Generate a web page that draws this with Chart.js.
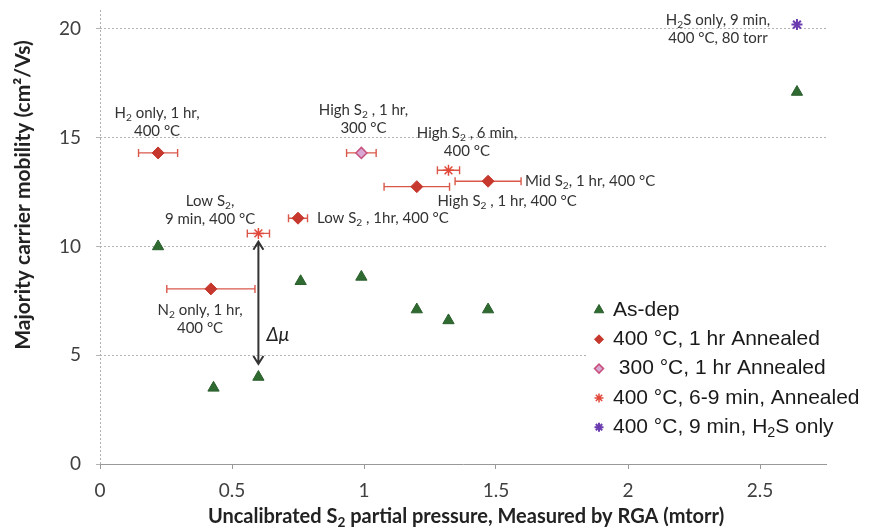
<!DOCTYPE html>
<html>
<head>
<meta charset="utf-8">
<script src="https://cdn.jsdelivr.net/npm/chart.js@4/dist/chart.umd.min.js"></script>
<style>
  html, body { margin: 0; padding: 0; background: #fff; }
  #wrap { width: 871px; height: 529px; }
</style>
</head>
<body>
<div id="wrap"><canvas id="c" width="871" height="529"></canvas></div>
<script>
// ---- data: S2 partial pressure (mtorr) vs. majority carrier mobility (cm2/Vs) ----
const asDepX = [0.22, 0.43, 0.60, 0.76, 0.99, 1.20, 1.32, 1.47, 2.64];
const asDepY = [10.0, 3.5, 4.0, 8.4, 8.6, 7.1, 6.6, 7.1, 17.1];

const anneal1hX   = [0.22, 0.42, 0.75, 1.20, 1.47];
const anneal1hY   = [14.3, 8.05, 11.3, 12.75, 13.0];
const anneal1hErr = [0.074, 0.167, 0.036, 0.124, 0.125];

const anneal300X   = [0.99];
const anneal300Y   = [14.3];
const anneal300Err = [0.056];

const shortAnnealX   = [0.60, 1.32];
const shortAnnealY   = [10.6, 13.5];
const shortAnnealErr = [0.042, 0.042];

const h2sX = [2.64];
const h2sY = [20.2];

const seriesNames = [
  'As-dep',
  '400 °C, 1 hr Annealed',
  ' 300 °C, 1 hr Annealed',
  '400 °C, 6-9 min, Annealed',
  '400 °C, 9 min, H{2}S only'
];

const xTicks = [0, 0.5, 1, 1.5, 2, 2.5];
const yTicks = [0, 5, 10, 15, 20];

const xTitle = 'Uncalibrated S{2} partial pressure, Measured by RGA (mtorr)';
const yTitle = 'Majority carrier mobility (cm²/Vs)';

// sample condition notes, anchored in data units ({n} = subscript)
const notes = [
  { lines: ['H{2} only, 1 hr,', '400 °C'], x: 0.216, y: 16.14, align: 'center' },
  { lines: ['High S{2} , 1 hr,', '300 °C'], x: 0.998, y: 16.28, align: 'center' },
  { lines: ['High S{2} , 6 min,', '400 °C'], x: 1.39, y: 15.22, align: 'center' },
  { lines: ['Mid S{2}, 1 hr, 400 °C'], x: 1.61, y: 13.01, align: 'left' },
  { lines: ['High S{2} , 1 hr, 400 °C'], x: 1.542, y: 12.1, align: 'center' },
  { lines: ['Low S{2} , 1hr, 400 °C'], x: 0.822, y: 11.31, align: 'left' },
  { lines: ['Low S{2},', '9 min, 400 °C'], x: 0.417, y: 12.06, align: 'center' },
  { lines: ['N{2} only, 1 hr,', '400 °C'], x: 0.379, y: 7.08, align: 'center' },
  { lines: ['H{2}S only, 9 min,', '400 °C, 80 torr'], x: 2.341, y: 20.41, align: 'center' }
];

// mobility gain arrow between as-deposited and annealed sample
const deltaMu = { x: 0.60, yTop: 10.22, yBottom: 4.6, label: 'Δμ', labelX: 0.631, labelY: 5.93 };

const pts = (xs, ys) => xs.map((x, i) => ({ x: x, y: ys[i] }));

// ---- text helpers: plain runs plus {subscript} runs ----
function fontStr(o, size) {
  return (o.style || 'normal') + ' ' + (o.weight || 'normal') + ' ' + size + 'px ' + o.family;
}
function richParts(str) {
  return str.split(/(\{[^}]*\})/).filter(s => s.length).map(s =>
    s[0] === '{' ? { t: s.slice(1, -1), sub: true } : { t: s, sub: false });
}
function richWidth(ctx, str, o) {
  let w = 0;
  richParts(str).forEach(p => {
    ctx.font = fontStr(o, p.sub ? o.size * 0.68 : o.size);
    w += ctx.measureText(p.t).width;
  });
  return w;
}
function drawRich(ctx, str, x, y, o) {
  const w = richWidth(ctx, str, o);
  let cx = o.align === 'center' ? x - w / 2 : (o.align === 'right' ? x - w : x);
  ctx.fillStyle = o.color;
  ctx.textBaseline = 'middle';
  ctx.textAlign = 'left';
  richParts(str).forEach(p => {
    const s = p.sub ? o.size * 0.68 : o.size;
    ctx.font = fontStr(o, s);
    ctx.fillText(p.t, cx, p.sub ? y + o.size * 0.3 : y);
    cx += ctx.measureText(p.t).width;
  });
}

// ---- plugins ----
const errorBars = {
  id: 'errorBars',
  beforeDatasetsDraw(chart) {
    const { ctx, scales: { x, y } } = chart;
    chart.data.datasets.forEach(ds => {
      if (!ds.xErr) return;
      ctx.save();
      ctx.strokeStyle = ds.errColor;
      ctx.lineWidth = 1.4;
      ds.data.forEach((p, i) => {
        const e = ds.xErr[i];
        const x1 = x.getPixelForValue(p.x - e);
        const x2 = x.getPixelForValue(p.x + e);
        const py = y.getPixelForValue(p.y);
        ctx.beginPath();
        ctx.moveTo(x1, py); ctx.lineTo(x2, py);
        ctx.moveTo(x1, py - 4); ctx.lineTo(x1, py + 4);
        ctx.moveTo(x2, py - 4); ctx.lineTo(x2, py + 4);
        ctx.stroke();
      });
      ctx.restore();
    });
  }
};

const yAxisLine = {
  id: 'yAxisLine',
  beforeDatasetsDraw(chart) {
    const { ctx, chartArea: a } = chart;
    ctx.save();
    ctx.strokeStyle = '#b0b0b0';
    ctx.lineWidth = 1;
    ctx.setLineDash([2, 2]);
    ctx.beginPath();
    ctx.moveTo(a.left + 0.5, a.top);
    ctx.lineTo(a.left + 0.5, a.bottom);
    ctx.stroke();
    ctx.restore();
  }
};

const notesPlugin = {
  id: 'notes',
  afterDatasetsDraw(chart) {
    const { ctx, scales: { x, y } } = chart;
    ctx.save();
    const o = { family: 'Lato', size: 15, color: '#333' };
    notes.forEach(n => {
      const px = x.getPixelForValue(n.x);
      const py = y.getPixelForValue(n.y);
      n.lines.forEach((line, i) => {
        drawRich(ctx, line, px, py + i * 18, Object.assign({ align: n.align }, o));
      });
    });

    // double-headed arrow
    const ax = x.getPixelForValue(deltaMu.x);
    const yt = y.getPixelForValue(deltaMu.yTop);
    const yb = y.getPixelForValue(deltaMu.yBottom);
    ctx.strokeStyle = '#333';
    ctx.lineWidth = 2;
    ctx.beginPath();
    ctx.moveTo(ax, yt); ctx.lineTo(ax, yb);
    ctx.moveTo(ax - 5, yt + 8); ctx.lineTo(ax, yt); ctx.lineTo(ax + 5, yt + 8);
    ctx.moveTo(ax - 5, yb - 8); ctx.lineTo(ax, yb); ctx.lineTo(ax + 5, yb - 8);
    ctx.stroke();
    drawRich(ctx, deltaMu.label, x.getPixelForValue(deltaMu.labelX), y.getPixelForValue(deltaMu.labelY),
      { family: 'Lato', size: 19, style: 'italic', color: '#222', align: 'left' });
    ctx.restore();
  }
};

const legendPlugin = {
  id: 'boxLegend',
  afterDraw(chart) {
    const { ctx } = chart;
    ctx.save();
    ctx.fillStyle = '#fff';
    ctx.fillRect(588, 295, 283, 147);
    chart.data.datasets.forEach((ds, i) => {
      const cy = 310 + i * 29.3;
      ctx.fillStyle = ds.backgroundColor;
      ctx.strokeStyle = ds.borderColor;
      ctx.lineWidth = ds.borderWidth;
      Chart.helpers.drawPoint(ctx, {
        pointStyle: ds.pointStyle, radius: ds.legendRadius, rotation: 0, borderWidth: ds.borderWidth
      }, 599, cy);
      drawRich(ctx, ds.label, 613, cy, { family: 'Liberation Sans', size: 21, color: '#1a1a1a', align: 'left' });
    });
    ctx.restore();
  }
};

const titlesPlugin = {
  id: 'axisTitles',
  afterDraw(chart) {
    const { ctx } = chart;
    ctx.save();
    drawRich(ctx, xTitle, 466, 517,
      { family: 'Lato', weight: 'bold', size: 20, color: '#222', align: 'center' });
    ctx.translate(23, 195);
    ctx.rotate(-Math.PI / 2);
    drawRich(ctx, yTitle, 0, 0, { family: 'Lato', weight: 'bold', size: 21, color: '#222', align: 'center' });
    ctx.restore();
  }
};

// ---- chart ----
new Chart(document.getElementById('c'), {
  type: 'scatter',
  data: {
    datasets: [
      { label: seriesNames[0], data: pts(asDepX, asDepY), pointStyle: 'triangle', pointRadius: 6.5, legendRadius: 5.5,
        backgroundColor: '#2f6a31', borderColor: '#2a5e2c', borderWidth: 1 },
      { label: seriesNames[1], data: pts(anneal1hX, anneal1hY), pointStyle: 'rectRot', pointRadius: 6, legendRadius: 4.5,
        backgroundColor: '#c6382d', borderColor: '#c6382d', borderWidth: 1, xErr: anneal1hErr, errColor: '#d9584a' },
      { label: seriesNames[2], data: pts(anneal300X, anneal300Y), pointStyle: 'rectRot', pointRadius: 5.5, legendRadius: 4.5,
        backgroundColor: '#d8a8d4', borderColor: '#c8507a', borderWidth: 1.5, xErr: anneal300Err, errColor: '#d9584a' },
      { label: seriesNames[3], data: pts(shortAnnealX, shortAnnealY), pointStyle: 'star', pointRadius: 5.5, legendRadius: 4.5,
        backgroundColor: '#e2483a', borderColor: '#e2483a', borderWidth: 1.5, xErr: shortAnnealErr, errColor: '#d9584a' },
      { label: seriesNames[4], data: pts(h2sX, h2sY), pointStyle: 'star', pointRadius: 5.5, legendRadius: 4.5,
        backgroundColor: '#6b3bb0', borderColor: '#6b3bb0', borderWidth: 2 }
    ]
  },
  options: {
    responsive: false,
    animation: false,
    layout: { padding: { top: 10, right: 45, left: 0, bottom: 0 } },
    plugins: { legend: { display: false }, tooltip: { enabled: false } },
    scales: {
      x: {
        type: 'linear', min: 0, max: 2.75,
        afterFit(s) { s.height = 65; s.paddingLeft = 0; s.paddingRight = 0; },
        afterBuildTicks(s) { s.ticks = xTicks.map(v => ({ value: v })); },
        ticks: { font: { family: 'Lato', size: 19 }, color: '#404040', padding: 10, callback: v => String(v) },
        grid: { drawOnChartArea: false, drawTicks: true, tickLength: 5, color: '#999' },
        border: { display: true, color: '#999', width: 1 }
      },
      y: {
        type: 'linear', min: 0, max: 20.87,
        afterFit(s) { s.width = 100; s.paddingTop = 0; s.paddingBottom = 0; },
        afterBuildTicks(s) { s.ticks = yTicks.map(v => ({ value: v })); },
        ticks: { font: { family: 'Lato', size: 19 }, color: '#404040', padding: 15, callback: v => String(v) },
        grid: { color: '#b4b4b4', lineWidth: 1, drawTicks: true, tickLength: 4 },
        border: { display: false, dash: [2, 2] }
      }
    }
  },
  plugins: [yAxisLine, errorBars, notesPlugin, legendPlugin, titlesPlugin]
});
</script>
</body>
</html>
